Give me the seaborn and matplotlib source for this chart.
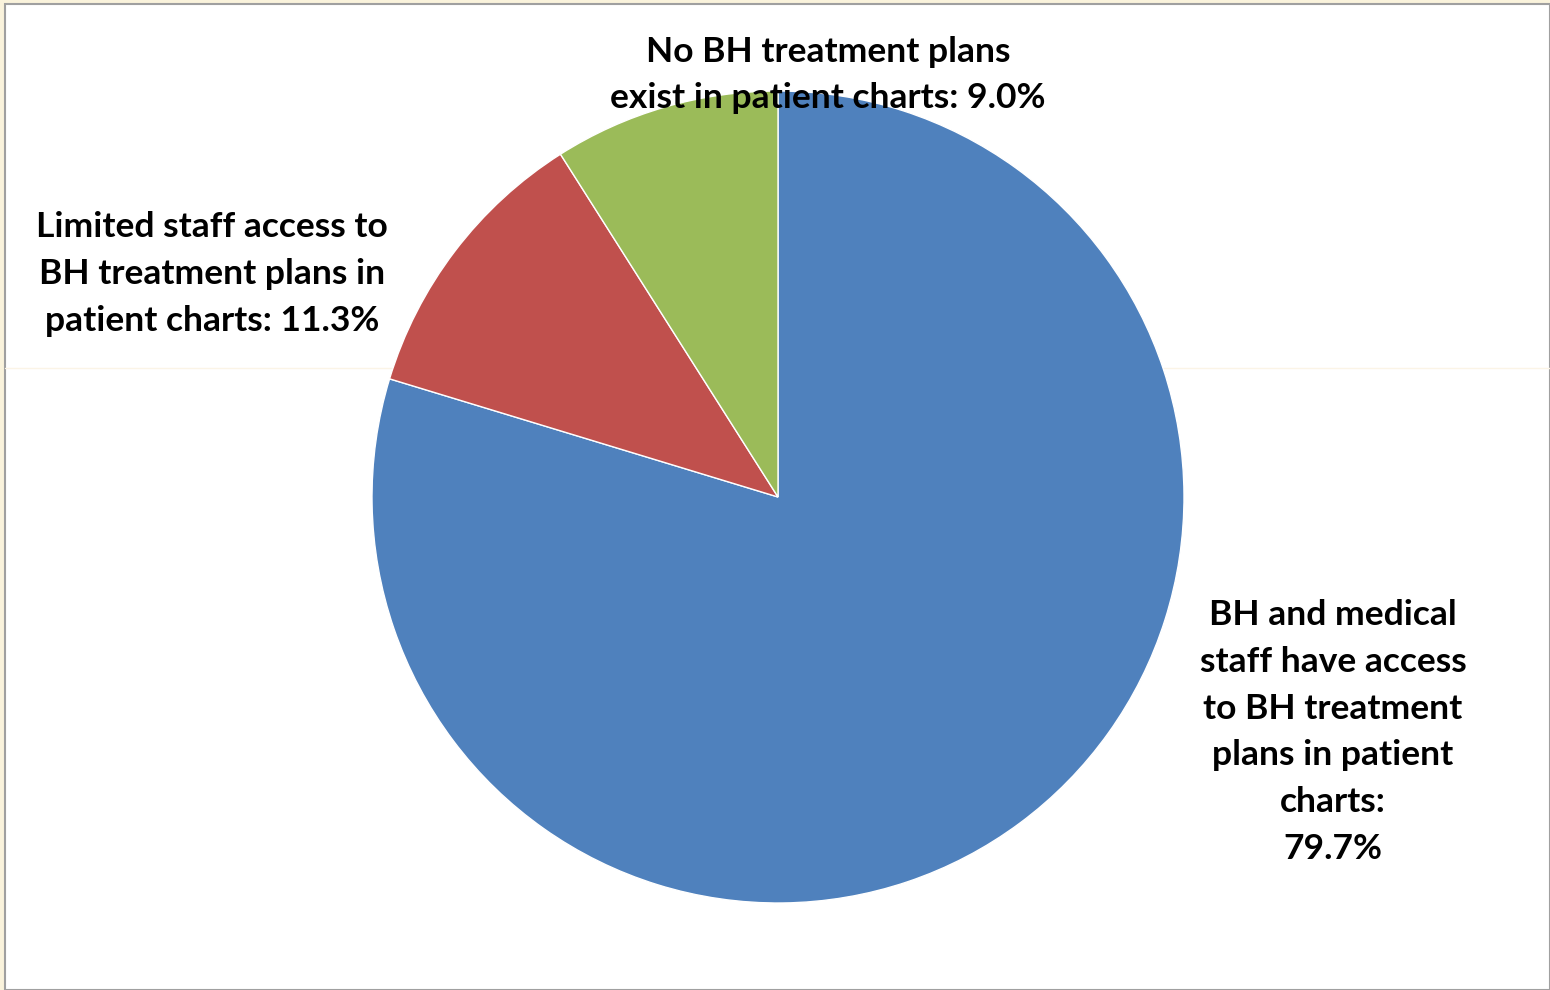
import matplotlib
matplotlib.use("Agg")
import matplotlib.pyplot as plt
import seaborn as sns
from matplotlib.patches import Rectangle

categories = [
    "BH and medical\nstaff have access\nto BH treatment\nplans in patient\ncharts:\n79.7%",
    "Limited staff access to\nBH treatment plans in\npatient charts: 11.3%",
    "No BH treatment plans\nexist in patient charts: 9.0%",
]
values = [79.7, 11.3, 9.0]
colors = ["#4F81BD", "#C0504D", "#9BBB59"]

sns.set_style("white")
plt.rcParams["font.family"] = ["Lato", "DejaVu Sans"]

W, H = 1550, 990
fig = plt.figure(figsize=(W / 100, H / 100), dpi=100, facecolor="#FAF3DC")
fig.patches.append(Rectangle((5 / W, 0), 1 - 5 / W, 1 - 4 / H, transform=fig.transFigure,
                             facecolor="white", edgecolor="#A0A0A0", linewidth=1.5, zorder=-2))
fig.add_artist(plt.Line2D([5 / W, 1], [1 - 368 / H, 1 - 368 / H], color="#FBF4E6", lw=1, zorder=-1))

cx, cy, r = 778, 497, 406
ax = fig.add_axes([(cx - r) / W, (H - cy - r) / H, 2 * r / W, 2 * r / H])
ax.set_facecolor("none")
ax.pie(values, colors=colors, startangle=90, counterclock=False, radius=1,
       wedgeprops=dict(edgecolor="white", linewidth=1))
ax.set_xlim(-1, 1)
ax.set_ylim(-1, 1)
ax.set_aspect("equal")
ax.axis("off")

label_pos = [(1333, 732), (212, 274), (828, 75)]
for text, (px, py) in zip(categories, label_pos):
    fig.text(px / W, 1 - py / H, text, ha="center", va="center", fontsize=25.5,
             fontweight="bold", color="black", linespacing=1.57, zorder=5)

fig.savefig("out.png", dpi=100, facecolor=fig.get_facecolor())
